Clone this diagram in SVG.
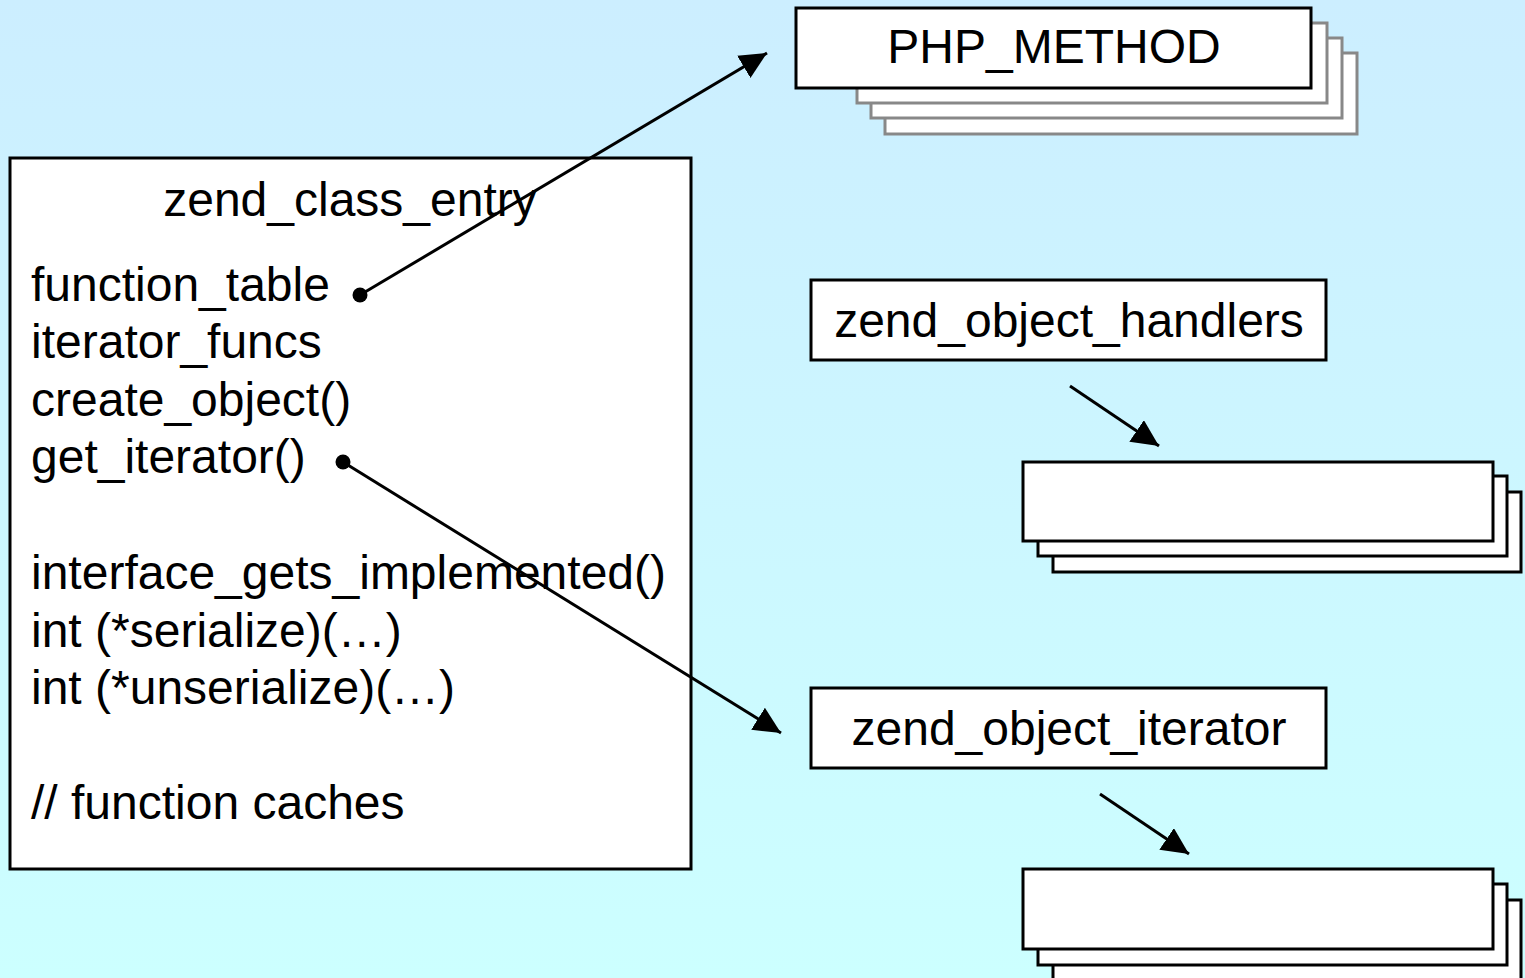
<svg xmlns="http://www.w3.org/2000/svg" width="1525" height="978" viewBox="0 0 1525 978">
<defs>
<linearGradient id="bg" x1="0" y1="0" x2="0" y2="1">
<stop offset="0" stop-color="#CCEEFF"/>
<stop offset="1" stop-color="#CCFFFF"/>
</linearGradient>
<marker id="arrow" markerUnits="userSpaceOnUse" markerWidth="28" markerHeight="26" refX="27" refY="13" orient="auto" viewBox="0 0 28 26">
<path d="M0,0 L27,13 L0,26 z" fill="#000"/>
</marker>
<marker id="dot" markerUnits="userSpaceOnUse" markerWidth="16" markerHeight="16" refX="8" refY="8" viewBox="0 0 16 16">
<circle cx="8" cy="8" r="7.5" fill="#000"/>
</marker>
</defs>
<style>
.box{fill:#fff;stroke:#000;stroke-width:3}
.back{fill:#fff;stroke:#888;stroke-width:3}
.t{font-family:"Liberation Sans",Arial,sans-serif;font-size:48px;fill:#000}
.c{text-anchor:middle}
.conn{stroke:#000;stroke-width:3;fill:none}
</style>
<rect x="0" y="0" width="1525" height="978" fill="url(#bg)"/>

<g id="php_method">
<rect class="back" x="885" y="53" width="472" height="81"/>
<rect class="back" x="871" y="38" width="471" height="80"/>
<rect class="back" x="857" y="23" width="470" height="80"/>
<rect class="box" x="796" y="8" width="515" height="80"/>
<text class="t c" x="1054" y="63">PHP_METHOD</text>
</g>

<g id="zend_class_entry">
<rect class="box" x="10" y="158" width="681" height="711"/>
<text class="t c" x="350" y="216">zend_class_entry</text>
<text class="t" x="31" y="301">function_table</text>
<text class="t" x="31" y="358">iterator_funcs</text>
<text class="t" x="31" y="416">create_object()</text>
<text class="t" x="31" y="473">get_iterator()</text>
<text class="t" x="31" y="589">interface_gets_implemented()</text>
<text class="t" x="31" y="647">int (*serialize)(…)</text>
<text class="t" x="31" y="704">int (*unserialize)(…)</text>
<text class="t" x="31" y="819">// function caches</text>
</g>

<g id="zend_object_handlers">
<rect class="box" x="811" y="280" width="515" height="80"/>
<text class="t c" x="1069" y="337">zend_object_handlers</text>
</g>

<g id="handlers_stack">
<rect class="box" x="1053" y="492" width="468" height="80"/>
<rect class="box" x="1038" y="476" width="469" height="80"/>
<rect class="box" x="1023" y="462" width="470" height="79"/>
</g>

<g id="zend_object_iterator">
<rect class="box" x="811" y="688" width="515" height="80"/>
<text class="t c" x="1069" y="745">zend_object_iterator</text>
</g>

<g id="iterator_stack">
<rect class="box" x="1053" y="900" width="468" height="90"/>
<rect class="box" x="1038" y="884" width="469" height="81"/>
<rect class="box" x="1023" y="869" width="470" height="80"/>
</g>

<g id="connectors">
<line class="conn" x1="360" y1="295" x2="767" y2="53" marker-start="url(#dot)" marker-end="url(#arrow)"/>
<line class="conn" x1="343" y1="462" x2="781" y2="733" marker-start="url(#dot)" marker-end="url(#arrow)"/>
<line class="conn" x1="1070" y1="386" x2="1159" y2="446" marker-end="url(#arrow)"/>
<line class="conn" x1="1100" y1="794" x2="1189" y2="854" marker-end="url(#arrow)"/>
</g>
</svg>
